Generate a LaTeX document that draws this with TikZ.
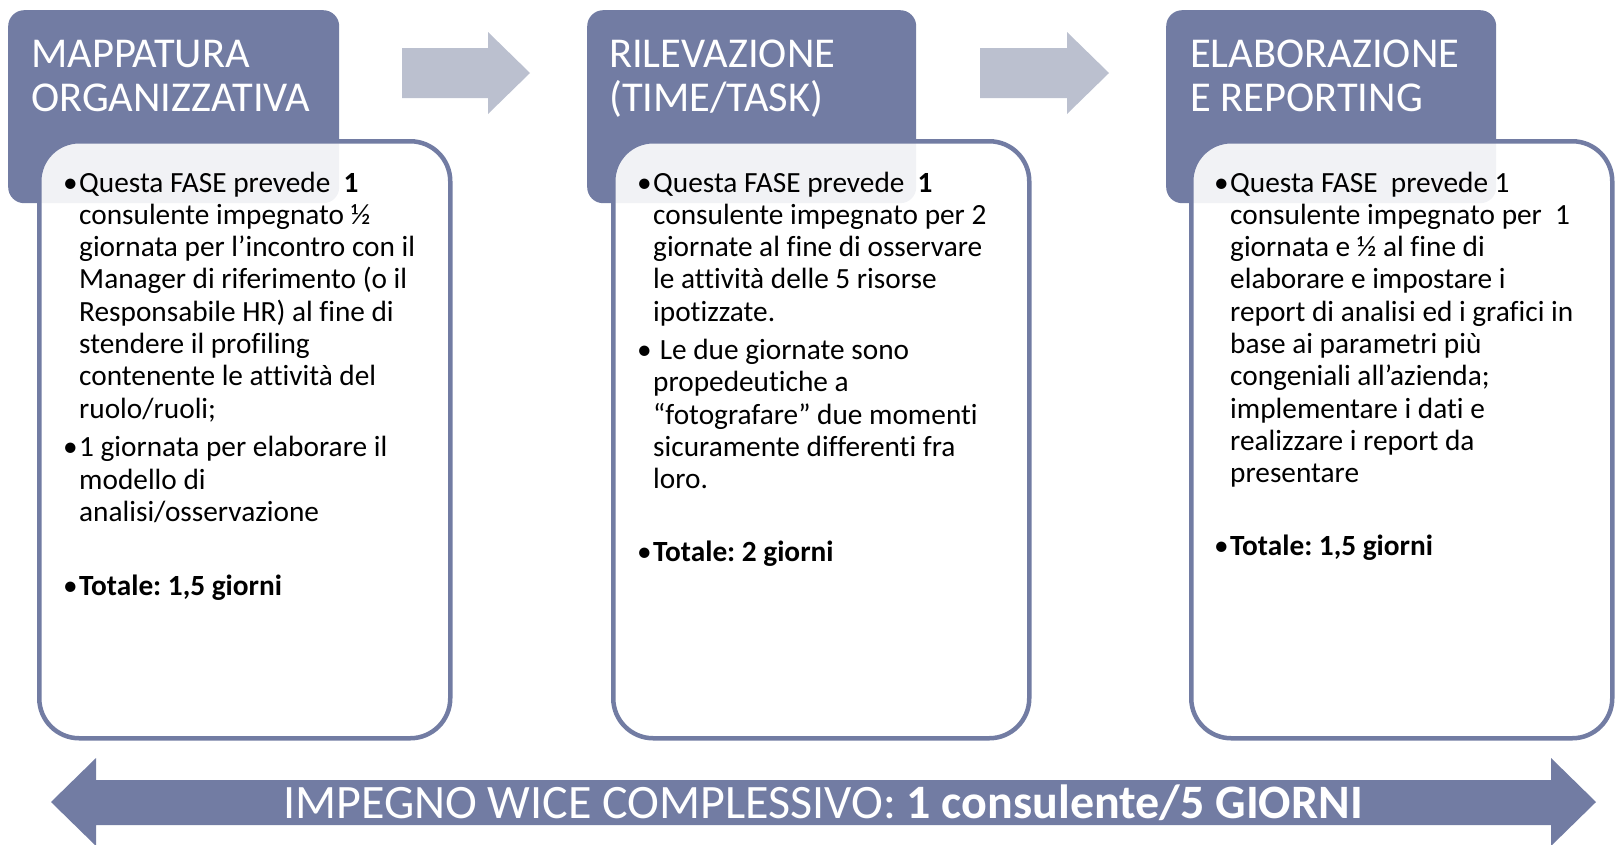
\documentclass[tikz,border=0pt]{standalone}
\usepackage{fontspec}
\setmainfont{Carlito}[Ligatures=NoCommon]
\definecolor{hdr}{HTML}{727CA3}
\definecolor{garrow}{HTML}{BBC0CF}
\newcommand\bodyfont{\fontsize{29.3}{32.3}\selectfont\frenchspacing}
\newcommand\hdrfont{\fontsize{42.5}{44}\selectfont}
\newcommand\bul{\leavevmode\llap{•\hspace{1.5pt}}}
\begin{document}
\begin{tikzpicture}[x=1pt,y=-1pt,
  hdrbox/.style={fill=hdr, rounded corners=16pt, inner sep=0pt, anchor=north west},
  bodybox/.style={draw=hdr, line width=4.5pt, fill=white, fill opacity=0.9, rounded corners=40pt, inner sep=0pt, anchor=north west},
  htitle/.style={text=white, inner sep=0pt, anchor=base west},
  btext/.style={text=black, inner sep=0pt, anchor=base west},
  flow/.style={fill=garrow},
  total/.style={fill=hdr}]
\useasboundingbox (0,0) rectangle (1615,844);

% headers
\node[hdrbox, minimum width=331pt, minimum height=193pt] (h1) at (8,10) {};
\node[hdrbox, minimum width=329pt, minimum height=193pt] (h2) at (587,10) {};
\node[hdrbox, minimum width=330pt, minimum height=193pt] (h3) at (1166,10) {};

% body boxes
\node[bodybox, minimum width=411pt, minimum height=597pt] (b1) at (37,139) {};
\node[bodybox, minimum width=416pt, minimum height=597pt] (b2) at (611,139) {};
\node[bodybox, minimum width=421pt, minimum height=597pt] (b3) at (1189,139) {};

% header titles
\node[htitle] (t1) at (31,67) {\parbox[t]{310pt}{\hdrfont MAPPATURA\\ORGANIZZATIVA}};
\node[htitle] (t2) at (609,67) {\parbox[t]{310pt}{\hdrfont RILEVAZIONE\\(TIME/TASK)}};
\node[htitle] (t3) at (1190,67) {\parbox[t]{310pt}{\hdrfont ELABORAZIONE\\E REPORTING}};

% flow arrows
\fill[flow] (402,48) -- (488,48) -- (488,32) -- (530,73) -- (488,114) -- (488,98) -- (402,98) -- cycle;
\fill[flow] (980,48) -- (1067,48) -- (1067,32) -- (1109,73) -- (1067,114) -- (1067,98) -- (980,98) -- cycle;

% body texts
\node[btext] (p1) at (79,192) {\parbox[t]{372pt}{\bodyfont\raggedright
\bul Questa FASE prevede\ \ \textbf{1}\\
consulente impegnato ½\\
giornata per l’incontro con il\\
Manager di riferimento (o il\\
Responsabile HR) al fine di\\
stendere il profiling\\
contenente le attività del\\
ruolo/ruoli;\\[6.5pt]
\bul 1 giornata per elaborare il\\
modello di\\
analisi/osservazione\\[41.5pt]
\bul\textbf{Totale: 1,5 giorni}}};

\node[btext] (p2) at (653,192) {\parbox[t]{372pt}{\bodyfont\raggedright
\bul Questa FASE prevede\ \ \textbf{1}\\
consulente impegnato per 2\\
giornate al fine di osservare\\
le attività delle 5 risorse\\
ipotizzate.\\[6pt]
\bul\ Le due giornate sono\\
propedeutiche a\\
“fotografare” due momenti\\
sicuramente differenti fra\\
loro.\\[40.7pt]
\bul\textbf{Totale: 2 giorni}}};

\node[btext] (p3) at (1230,192) {\parbox[t]{372pt}{\bodyfont\raggedright
\bul Questa FASE\ \ prevede 1\\
consulente impegnato per\ \ 1\\
giornata e ½ al fine di\\
elaborare e impostare i\\
report di analisi ed i grafici in\\
base ai parametri più\\
congeniali all’azienda;\\
implementare i dati e\\
realizzare i report da\\
presentare\\[40.7pt]
\bul\textbf{Totale: 1,5 giorni}}};

% bottom double arrow
\fill[total] (51,802) -- (96,758) -- (96,780) -- (1551,780) -- (1551,758) -- (1596,802) -- (1551,846) -- (1551,825) -- (96,825) -- (96,846) -- cycle;
\node[text=white, inner sep=0pt, anchor=base] (tot) at (823,818)
  {\fontsize{48}{56}\selectfont\frenchspacing IMPEGNO WICE COMPLESSIVO: \textbf{1 consulente/5 GIORNI}};
\end{tikzpicture}
\end{document}
